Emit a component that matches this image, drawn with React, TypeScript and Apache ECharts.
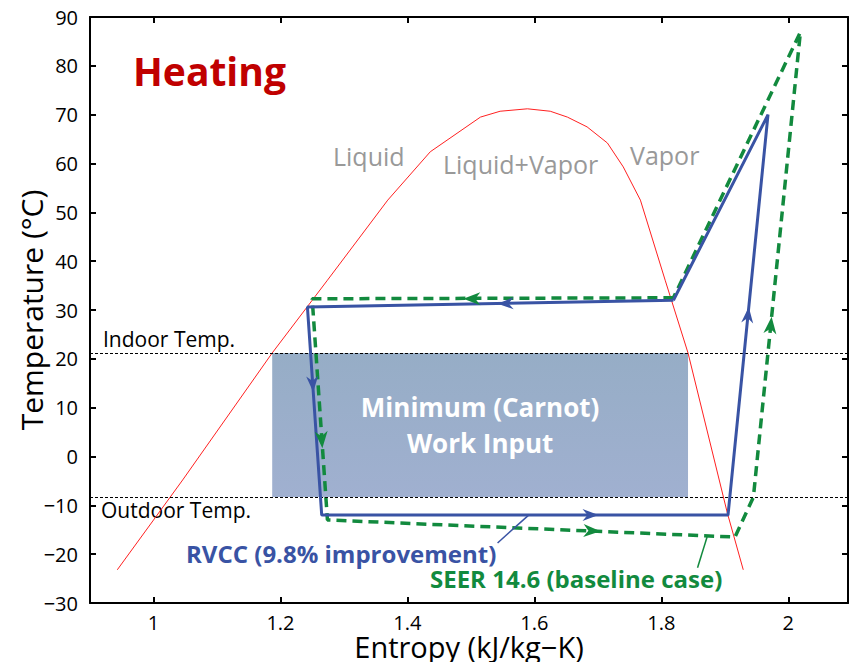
import React, { useEffect, useRef } from 'react';
import * as echarts from 'echarts';

// Saturation dome (entropy kJ/kg-K, temperature °C)
const domeS = [0.943, 1.046, 1.187, 1.274, 1.369, 1.436, 1.515, 1.546, 1.589, 1.625, 1.652, 1.683, 1.715, 1.740, 1.767, 1.806, 1.842, 1.904, 1.929];
const domeT = [-23.2, -4.8, 21.2, 36.1, 52.5, 62.4, 69.5, 70.7, 71.2, 70.7, 69.5, 67.5, 64.2, 59.3, 52.5, 36.1, 21.2, -11.6, -23.2];

// RVCC cycle
const rvccS = [1.819, 1.2425, 1.265, 1.905, 1.968, 1.819];
const rvccT = [32.0, 30.6, -12.0, -12.0, 70.0, 32.0];

// SEER 14.6 baseline cycle
const seerS = [1.819, 1.250, 1.274, 1.916, 1.945, 2.019, 1.819];
const seerT = [32.5, 32.3, -13.0, -16.5, -8.3, 86.9, 32.5];

// Arrowheads: [s, T, toward s, toward T]
const rvccArrows = [
  [1.542, 31.3, 1.2425, 30.6],
  [1.2517, 13.2, 1.265, -12.0],
  [1.701, -12.0, 1.905, -12.0],
  [1.9377, 30.6, 1.968, 70.0],
];
const seerArrows = [
  [1.488, 32.3, 1.250, 32.3],
  [1.266, 1.7, 1.274, -13.0],
  [1.704, -15.3, 1.916, -16.5],
  [1.9737, 28.6, 2.019, 86.9],
];

// Leader lines for labels
const rvccLeaderS = [1.542, 1.591];
const rvccLeaderT = [-17.7, -12.0];
const seerLeaderS = [1.857, 1.872];
const seerLeaderT = [-22.8, -16.5];

const indoorTemp = 21.2;
const outdoorTemp = -8.3;
const carnotS = [1.187, 1.842];

const xTicks = [1, 1.2, 1.4, 1.6, 1.8, 2];
const yTicks = [-30, -20, -10, 0, 10, 20, 30, 40, 50, 60, 70, 80, 90];

const BLUE = '#3953a4';
const GREEN = '#128a3e';
const FONT = '"Open Sans", "DejaVu Sans", sans-serif';

const zip = (a: number[], b: number[]) => a.map((v, i) => [v, b[i]]);

const arrowRender = (color: string, L: number, W: number, I: number) => (params: any, api: any) => {
  const p = api.coord([api.value(0), api.value(1)]);
  const q = api.coord([api.value(2), api.value(3)]);
  const a = Math.atan2(q[1] - p[1], q[0] - p[0]);
  const c = Math.cos(a);
  const s = Math.sin(a);
  const pts = [[0, 0], [-L, -W], [-L + I, 0], [-L, W]].map(([x, y]) => [p[0] + x * c - y * s, p[1] + x * s + y * c]);
  return { type: 'polygon', shape: { points: pts }, style: { fill: color } };
};

export default function App() {
  const ref = useRef<HTMLDivElement>(null);
  useEffect(() => {
    if (!ref.current) return;
    const chart = echarts.init(ref.current, null, { renderer: 'svg' });
    const axisLine = { show: true, onZero: false, lineStyle: { color: '#000', width: 2 } };
    const axisTick = { show: true, inside: true, length: 6, lineStyle: { color: '#000', width: 2 } };
    const minus = (v: number) => String(v).replace('-', '\u2212');
    chart.setOption({
      animation: false,
      backgroundColor: '#fff',
      grid: { left: 90, top: 17, width: 758, height: 586, containLabel: false, outerBoundsMode: 'none' },
      xAxis: [
        {
          type: 'value', min: 0.9, max: 2.094, position: 'bottom',
          axisLine, axisTick: { ...axisTick, customValues: xTicks },
          axisLabel: { customValues: xTicks, color: '#000', fontSize: 20, lineHeight: 20, fontFamily: FONT, margin: 9, formatter: (v: number) => String(v) },
          splitLine: { show: false },
          name: 'Entropy (kJ/kg\u2212K)', nameLocation: 'middle', nameGap: 30, nameMoveOverlap: false,
          nameTextStyle: { color: '#000', fontSize: 29, fontFamily: FONT, lineHeight: 26 },
        },
        {
          type: 'value', min: 0.9, max: 2.094, position: 'top',
          axisLine, axisTick: { ...axisTick, customValues: xTicks },
          axisLabel: { show: false }, splitLine: { show: false },
        },
      ],
      yAxis: [
        {
          type: 'value', min: -30, max: 90, interval: 10, position: 'left',
          axisLine, axisTick,
          axisLabel: { customValues: yTicks, color: '#000', fontSize: 20, fontFamily: FONT, margin: 12, formatter: minus },
          splitLine: { show: false },
          name: 'Temperature (\u00b0C)', nameLocation: 'middle', nameGap: 44, nameMoveOverlap: false,
          nameTextStyle: { color: '#000', fontSize: 30, fontFamily: FONT, lineHeight: 30 },
        },
        {
          type: 'value', min: -30, max: 90, interval: 10, position: 'right',
          axisLine, axisTick, axisLabel: { show: false }, splitLine: { show: false },
        },
      ],
      graphic: [
        { type: 'text', x: 133, y: 70, style: { text: 'Heating', fill: '#c00000', font: `bold 39px ${FONT}`, verticalAlign: 'middle' } },
        { type: 'text', x: 333, y: 156, style: { text: 'Liquid', fill: '#999', font: `25px ${FONT}`, verticalAlign: 'middle' } },
        { type: 'text', x: 443, y: 164, style: { text: 'Liquid+Vapor', fill: '#999', font: `25px ${FONT}`, verticalAlign: 'middle' } },
        { type: 'text', x: 630, y: 155, style: { text: 'Vapor', fill: '#999', font: `25px ${FONT}`, verticalAlign: 'middle' } },
        { type: 'text', x: 103, y: 339, style: { text: 'Indoor Temp.', fill: '#000', font: `21px ${FONT}`, verticalAlign: 'middle' } },
        { type: 'text', x: 101, y: 510, style: { text: 'Outdoor Temp.', fill: '#000', font: `21px ${FONT}`, verticalAlign: 'middle' } },
        { type: 'text', x: 186, y: 553, style: { text: 'RVCC (9.8% improvement)', fill: BLUE, font: `bold 24px ${FONT}`, verticalAlign: 'middle' } },
        { type: 'text', x: 430, y: 578, style: { text: 'SEER 14.6 (baseline case)', fill: GREEN, font: `bold 24px ${FONT}`, verticalAlign: 'middle' } },
      ],
      series: [
        {
          type: 'line', data: [], z: 1, silent: true,
          markArea: {
            silent: true,
            itemStyle: {
              color: new echarts.graphic.LinearGradient(0, 0, 0, 1, [
                { offset: 0, color: '#96adc6' },
                { offset: 1, color: '#a0b0d0' },
              ]),
            },
            label: {
              show: true, position: 'inside', color: '#fff', fontSize: 26, fontWeight: 'bold', fontFamily: FONT,
              lineHeight: 36, formatter: 'Minimum (Carnot)\nWork Input',
            },
            data: [[{ xAxis: carnotS[0], yAxis: indoorTemp }, { xAxis: carnotS[1], yAxis: outdoorTemp }]],
          },
        },
        {
          type: 'line', data: [], z: 2, silent: true,
          markLine: {
            silent: true, symbol: ['none', 'none'], label: { show: false },
            lineStyle: { color: '#000', type: [3, 2], width: 1 },
            data: [{ yAxis: indoorTemp }, { yAxis: outdoorTemp }],
          },
        },
        {
          type: 'line', data: zip(domeS, domeT), z: 3, symbol: 'none', silent: true,
          lineStyle: { color: '#ff2020', width: 1 },
        },
        {
          type: 'line', data: zip(seerS, seerT), z: 4, symbol: 'none', silent: true,
          lineStyle: { color: GREEN, width: 3.5, type: [10, 6] },
        },
        {
          type: 'line', data: zip(rvccS, rvccT), z: 5, symbol: 'none', silent: true,
          lineStyle: { color: BLUE, width: 3 },
        },
        {
          type: 'line', data: zip(rvccLeaderS, rvccLeaderT), z: 5, symbol: 'none', silent: true,
          lineStyle: { color: BLUE, width: 1.5 },
        },
        {
          type: 'line', data: zip(seerLeaderS, seerLeaderT), z: 5, symbol: 'none', silent: true,
          lineStyle: { color: GREEN, width: 1.5 },
        },
        {
          type: 'custom', coordinateSystem: 'cartesian2d', z: 6, silent: true,
          encode: { x: 0, y: 1 }, data: seerArrows, renderItem: arrowRender(GREEN, 17, 6.5, 5),
        },
        {
          type: 'custom', coordinateSystem: 'cartesian2d', z: 7, silent: true,
          encode: { x: 0, y: 1 }, data: rvccArrows, renderItem: arrowRender(BLUE, 16, 6, 5),
        },
      ],
    });
    return () => chart.dispose();
  }, []);
  return <div ref={ref} style={{ position: 'fixed', left: 0, top: 0, width: 855, height: 662 }} />;
}
